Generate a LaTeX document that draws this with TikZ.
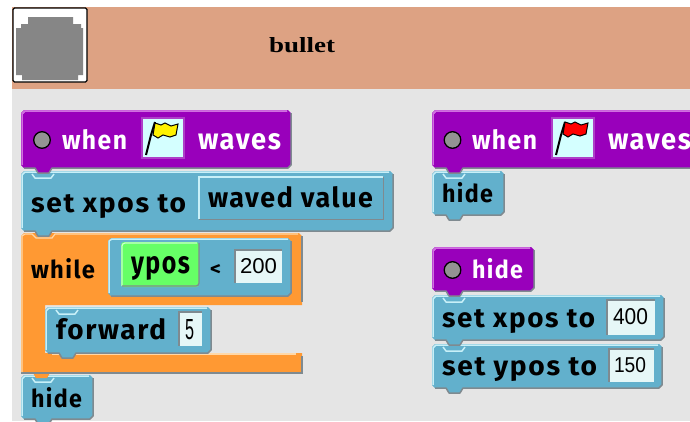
\documentclass[tikz,border=0pt]{standalone}
\usepackage{fontspec}
\usepackage{graphicx}
\setmainfont{Fira Sans}
\newfontfamily\blockfont[LetterSpace=6,BoldFont={Fira Sans Bold}]{Fira Sans}
\newfontfamily\fieldfont{Liberation Sans}
\newfontfamily\titlefont{Liberation Serif}
\definecolor{bghead}{HTML}{DDA283}
\definecolor{bgpanel}{HTML}{E5E5E5}
\definecolor{bcmd}{HTML}{62B0CC}
\definecolor{bcmdL}{HTML}{C8F0F8}
\definecolor{bhat}{HTML}{9900BB}
\definecolor{bhatL}{HTML}{D070E0}
\definecolor{bhatF}{HTML}{AE3FC8}
\definecolor{borange}{HTML}{FF9933}
\definecolor{borangeL}{HTML}{FFD8A8}
\definecolor{bgreen}{HTML}{66FF66}
\definecolor{bgreenL}{HTML}{C8FFC8}
\definecolor{bdark}{HTML}{7F8A90}
\definecolor{bfield}{HTML}{E6F7F7}
\definecolor{bflag}{HTML}{D4FFFF}
\tikzset{
  lbl/.style={anchor=base west,inner sep=0pt,outer sep=0pt},
  lightedge/.style={line width=1.5pt,line join=round},
  darkedge/.style={draw=bdark,line width=1.5pt,line join=round},
}
% #1 fill #2 light x1 y1 x2 y2
\newcommand{\blockshape}[6]{%
  \fill[#1] ({#3+3},#4)--({#5-3},#4)--(#5,{#4+3})--(#5,{#6-3})--({#5-3},#6)--({#3+31},#6)--({#3+28},{#6+5})--({#3+17},{#6+5})--({#3+14},#6)--({#3+3},#6)--(#3,{#6-3})--(#3,{#4+3})--cycle;
  \draw[darkedge] (#5,{#4+3})--(#5,{#6-3})--({#5-3},#6)--({#3+31},#6)--({#3+28},{#6+5})--({#3+17},{#6+5})--({#3+14},#6)--({#3+3},#6);
  \draw[lightedge,draw=#2] ({#3+1},{#6-3})--({#3+1},{#4+4})--({#3+4},{#4+1})--({#5-4},{#4+1});
  \draw[lightedge,draw=#2] ({#3+11},{#4+3})--({#3+14},{#4+7})--({#3+30},{#4+7})--({#3+33},{#4+3});
}
\newcommand{\hatshape}[5]{\blockshape{bhat}{bhatL}{#1}{#2}{#3}{#4}%
  \fill[bhat] ({#1+8},{#2+2}) rectangle ({#1+40},{#2+12});
  \draw[lightedge,draw=bhatL] ({#1+1},{#2+4})--({#1+4},{#2+1})--({#3-4},{#2+1});
  \draw[fill=gray!85,draw=black,line width=1.3pt] (#5,{(#2+#4)/2+1}) circle (8.3);
}
% name x baseline width height colour text
\newcommand{\blocklabel}[7]{\node[lbl,text=#6] (#1) at (#2,#3) {\resizebox{#4pt}{#5pt}{\blockfont\bfseries #7}};}
\newcommand{\fieldbox}[4]{%
  \fill[bfield] (#1,#2) rectangle (#3,#4);
  \draw[bdark,line width=1.2pt] (#1,#4)--(#1,#2)--(#3,#2);
}
\newcommand{\fieldlabel}[6]{\node[lbl] (#1) at (#2,#3) {\resizebox{#4pt}{#5pt}{\fieldfont #6}};}
\newcommand{\flagbox}[3]{%
  \fill[bhatF] (#1,117) rectangle ({#1+44},159);
  \fill[bflag] ({#1+2},119) rectangle ({#1+42},157);
  \draw[black,line width=2pt] ({#1+5},155)--({#1+8},143)--({#1+10},135)--({#1+14},122);
  \fill[#2,draw=black,line width=1pt] ({#1+14},{#3})--({#1+20},{#3+2})--({#1+24},{#3})--({#1+30},{#3+3})--({#1+37},{#3+1})--({#1+35},{#3+12})--({#1+29},{#3+14})--({#1+22},{#3+12})--({#1+17},{#3+15})--({#1+12},{#3+12})--cycle;
}
\begin{document}
\begin{tikzpicture}[x=1pt,y=-1pt]
\useasboundingbox (0,0) rectangle (690,421);
\fill[white] (0,0) rectangle (690,421);
\clip (0,0) rectangle (690,421);
\fill[bgpanel] (12,89) rectangle (690,421);
\fill[bghead] (12,7) rectangle (690,89);
% sprite icon
\draw[black,line width=1.4pt,fill=white,rounded corners=1.5pt] (13,8) rectangle (87,82);
\fill[gray!95] (28,17)--(73,17)--(73,24)--(81,24)--(81,28)--(83,28)--(83,75)--(78,75)--(78,80)--(22,80)--(22,75)--(16,75)--(16,28)--(21,28)--(21,24)--(28,24)--cycle;
\node[lbl] (title) at (269,52) {\resizebox{66pt}{15pt}{\titlefont\bfseries bullet}};
% left stack
\blockshape{bcmd}{bcmdL}{21}{375}{93}{419}
\blocklabel{hideA}{31}{407}{51}{20}{black}{hide}
% while
\fill[borange] (24,233)--(299,233)--(302,236)--(302,305)--(70,305)--(67,305)--(45,305)--(45,353)--(302,353)--(302,373)--(50,373)--(47,378)--(36,378)--(33,373)--(21,373)--(21,236)--cycle;
\draw[bdark,line width=1.2pt] (302,236)--(302,302);
\draw[bdark,line width=1.2pt] (302,356)--(302,373)--(21,373);
\draw[borangeL,line width=1.2pt] (22,372)--(22,236)--(25,234)--(32,234)--(36,238)--(52,238)--(55,234)--(298,234);
\draw[borangeL,line width=1.2pt] (52,354)--(296,354);
\blockshape{bcmd}{bcmdL}{45}{307}{211}{353}
\blocklabel{forward}{56}{339}{110}{21}{black}{forward}
\fieldbox{179}{312}{202}{346}
\fieldlabel{five}{185}{339}{9}{20}{5}
\blocklabel{while}{31}{278}{64}{20}{black}{while}
% predicate
\fill[bcmd] (111,238)--(288,238)--(291,241)--(291,293)--(288,296)--(111,296)--(108,293)--(108,241)--cycle;
\draw[darkedge] (291,241)--(291,293)--(288,296)--(111,296);
\draw[lightedge,draw=bcmdL] (109,293)--(109,241)--(112,239)--(288,239);
\fill[bgreen,rounded corners=3pt] (121,242) rectangle (199,287);
\draw[bgreenL,line width=1.2pt,rounded corners=3pt] (122,286)--(122,243)--(197,243);
\draw[bdark,line width=1.2pt,rounded corners=3pt] (199,243)--(199,286)--(122,286);
\blocklabel{ypos}{131}{273}{59}{17}{black}{ypos}
\blocklabel{lt}{210}{275}{11}{11}{black}{<}
\fieldbox{235}{250}{282}{283}
\fieldlabel{twohundred}{240}{273}{37}{15}{200}
\blockshape{bcmd}{bcmdL}{21}{171}{393}{231}
\blocklabel{setx}{31}{212}{155}{18}{black}{set xpos to}
\fill[bcmd] (199,177) rectangle (383,219);
\draw[bcmdL,line width=1.2pt] (199,219)--(199,177)--(383,177);
\draw[bdark,line width=1pt] (199,219)--(383,219)--(383,177);
\blocklabel{waved}{208}{207}{165}{21}{black}{waved value}
\hatshape{21}{110}{291}{168}{42}
\blocklabel{whenA}{62}{149}{65}{20}{white}{when}
\flagbox{141}{yellow}{123}
\blocklabel{wavesA}{198}{149}{83}{16}{white}{waves}
% right stacks
\blockshape{bcmd}{bcmdL}{432}{171}{504}{215}
\blocklabel{hideB}{442}{202}{51}{20}{black}{hide}
\hatshape{432}{110}{700}{168}{452.5}
\blocklabel{whenB}{472}{149}{65}{20}{white}{when}
\flagbox{551}{red}{122}
\blocklabel{wavesB}{608}{149}{83}{16}{white}{waves}
\blockshape{bcmd}{bcmdL}{432}{344}{662}{388}
\blocklabel{sety}{442}{375}{155}{18}{black}{set ypos to}
\fieldbox{609}{349}{654}{382}
\fieldlabel{onefifty}{614}{372}{32}{15}{150}
\blockshape{bcmd}{bcmdL}{432}{295}{664}{340}
\blocklabel{setxb}{442}{327}{153}{18}{black}{set xpos to}
\fieldbox{607}{300}{655}{335}
\fieldlabel{fourhundred}{613}{324}{35}{16}{400}
\hatshape{432}{247}{534}{291}{452.5}
\blocklabel{hideC}{472}{278}{51}{20}{white}{hide}
\end{tikzpicture}
\end{document}
